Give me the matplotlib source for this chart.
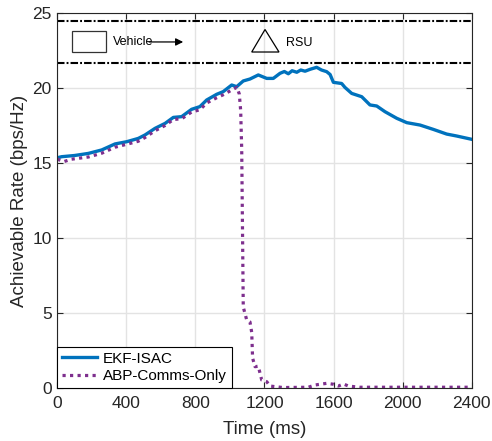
import numpy as np
import matplotlib
matplotlib.use("Agg")
import matplotlib.pyplot as plt
from matplotlib.patches import Rectangle, Polygon

plt.rcParams['font.family'] = ['Liberation Sans', 'DejaVu Sans']

# EKF-ISAC rate (bps/Hz) vs time (ms)
t_ekf = [0, 25, 100, 180, 257, 334, 402, 469, 508, 566, 624, 672, 720, 778,
         826, 865, 923, 961, 1010, 1039, 1077, 1116, 1164, 1213, 1251, 1290,
         1315, 1338, 1360, 1387, 1410, 1435, 1465, 1502, 1530, 1560, 1580,
         1599, 1647, 1666, 1705, 1763, 1811, 1850, 1898, 1966, 2024, 2101,
         2178, 2255, 2313, 2400]
rate_ekf = [15.35, 15.42, 15.5, 15.64, 15.87, 16.27, 16.42, 16.64, 16.87,
            17.31, 17.64, 18.04, 18.09, 18.58, 18.76, 19.2, 19.58, 19.76,
            20.2, 20.09, 20.47, 20.6, 20.87, 20.64, 20.64, 20.98, 21.1, 20.95,
            21.15, 21.05, 21.2, 21.12, 21.25, 21.38, 21.2, 21.09, 20.9, 20.38,
            20.3, 20.04, 19.64, 19.42, 18.87, 18.8, 18.42, 17.98, 17.69, 17.53,
            17.24, 16.93, 16.8, 16.58]

# ABP-Comms-Only rate (bps/Hz) vs time (ms)
t_abp = [0, 40, 80, 180, 257, 334, 402, 469, 508, 566, 624, 672, 720, 778,
         826, 865, 923, 961, 1000, 1040, 1054, 1062, 1068, 1077, 1097, 1116,
         1126, 1131, 1145, 1164, 1184, 1213, 1232, 1307, 1454, 1493, 1560,
         1599, 1628, 1657, 1686, 1750, 2400]
rate_abp = [15.25, 15.1, 15.25, 15.4, 15.65, 16.05, 16.25, 16.45, 16.7,
            17.15, 17.5, 17.9, 17.95, 18.4, 18.55, 19.0, 19.35, 19.55, 19.8,
            20.05, 19.6, 18.5, 15.9, 5.4, 4.53, 4.4, 3.7, 2.0, 1.42, 1.45,
            0.53, 0.42, 0.13, 0.03, 0.05, 0.2, 0.31, 0.25, 0.13, 0.27, 0.13,
            0.05, 0.05]

road_edges = [24.5, 21.7]
xticks = [0, 400, 800, 1200, 1600, 2000, 2400]
yticks = [0, 5, 10, 15, 20, 25]

fig = plt.figure(figsize=(4.92, 4.41), dpi=100)
ax = fig.add_axes([0.1165, 0.1202, 0.8422, 0.8503])

ax.plot(t_ekf, rate_ekf, color='#0072BD', lw=2.4, label='EKF-ISAC',
        solid_joinstyle='round')
ax.plot(t_abp, rate_abp, color='#7E2F8E', lw=2.3, linestyle=(0, (1, 1.35)),
        label='ABP-Comms-Only')

for yv in road_edges:
    ax.axhline(yv, color='black', lw=1.5, linestyle=(0, (3.6, 1.0, 0.9, 1.0)))

# vehicle, arrow and RSU sketch
ax.add_patch(Rectangle((83, 22.38), 197, 1.42, fill=False,
                       edgecolor='#333333', lw=0.9))
ax.text(321, 23.07, 'Vehicle', fontsize=9, va='center', ha='left')
ax.annotate('', xy=(745, 23.07), xytext=(515, 23.07),
            arrowprops=dict(arrowstyle='-|>', color='black', lw=0.9,
                            mutation_scale=11))
ax.add_patch(Polygon([(1126, 22.4), (1284, 22.4), (1203, 23.9)], closed=True,
                     fill=False, edgecolor='black', lw=0.9))
ax.text(1325, 22.98, 'RSU', fontsize=9, va='center', ha='left')

ax.set_xlim(0, 2400)
ax.set_ylim(0, 25)
ax.set_xticks(xticks)
ax.set_yticks(yticks)
ax.tick_params(direction='in', length=4, width=0.8, colors='#262626',
               labelsize=12.5, top=True, right=True, labelcolor='#262626')
ax.tick_params(axis='x', pad=6)
ax.tick_params(axis='y', pad=4)
ax.grid(True, color='#e3e3e3', lw=1)
ax.set_axisbelow(True)
for s in ax.spines.values():
    s.set_color('#262626')
    s.set_linewidth(0.8)

ax.set_xlabel('Time (ms)', fontsize=13.5, color='#262626', labelpad=7)
ax.set_ylabel('Achievable Rate (bps/Hz)', fontsize=13.5, color='#262626',
              labelpad=3)

leg = ax.legend(loc='lower left', fontsize=11, handlelength=2.3,
                borderaxespad=0, fancybox=False, framealpha=1,
                borderpad=0.3, labelspacing=0.25, handletextpad=0.4)
leg.get_frame().set_edgecolor('black')
leg.get_frame().set_linewidth(0.8)

fig.savefig('out.png', dpi=100)
